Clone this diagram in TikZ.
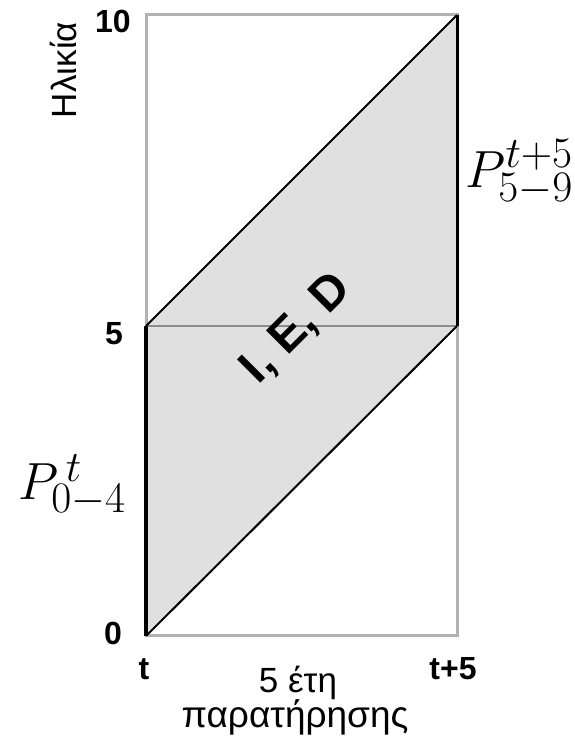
\documentclass[tikz,border=0pt]{standalone}
\usepackage{fontspec}
\setmainfont{Liberation Sans}
\usetikzlibrary{positioning}

\begin{document}
\begin{tikzpicture}[x=1pt, y=1pt,
    frame/.style={draw=black!30, line width=3pt},
    midline/.style={draw=black!45, line width=2.5pt},
    lifeline/.style={draw=black, line width=2pt},
    agelabel/.style={font=\fontsize{32}{34}\selectfont\bfseries, anchor=base},
    caption/.style={font=\fontsize{35}{38}\selectfont, anchor=base},
    poplabel/.style={font=\fontsize{24.88}{28}\selectfont, scale=2.1, anchor=base west, inner sep=0pt},
]
\useasboundingbox (0,0) rectangle (574,739);
% corners of the Lexis box
\coordinate (o)  at (146,103);
\coordinate (a)  at (457,103);
\coordinate (m0) at (146,413);
\coordinate (m1) at (457,413);
\coordinate (tl) at (146,724);
\coordinate (tr) at (457,724);

\fill[black!12] (o) -- (m1) -- (tr) -- (m0) -- cycle;
\draw[frame] (o) rectangle (tr);
\draw[midline] (m0) -- (m1);
\draw[lifeline, line width=3.5pt] (o) -- (m0);
\draw[lifeline, line width=3pt] (m1) -- (tr);
\draw[lifeline] (o) -- (m1);
\draw[lifeline] (m0) -- (tr);

% age axis
\foreach \v/\x/\y in {0/113/94, 5/114/394, 10/113/706} {
  \node[agelabel] (age\v) at (\x,\y) {\v};
}
\node[caption, rotate=90] (agetitle) at (76,669) {Ηλικία};

% time axis
\node[agelabel] (tstart) at (144,59) {t};
\node[agelabel] (tend) at (453,59) {t+5};
\node[caption] (span) at (298,46) {5 έτη};
\node[caption, font=\fontsize{37}{40}\selectfont] (obs) at (295,12) {παρατήρησης};

% populations
\node[poplabel] (pstart) at (18,239) {$P^{\,t}_{0-4}$};
\node[poplabel] (pend) at (465,551) {$P^{t+5}_{5-9}$};

\node[font=\fontsize{48}{50}\selectfont\bfseries, rotate=45] (ied) at (297,410) {I, E, D};
\end{tikzpicture}
\end{document}
